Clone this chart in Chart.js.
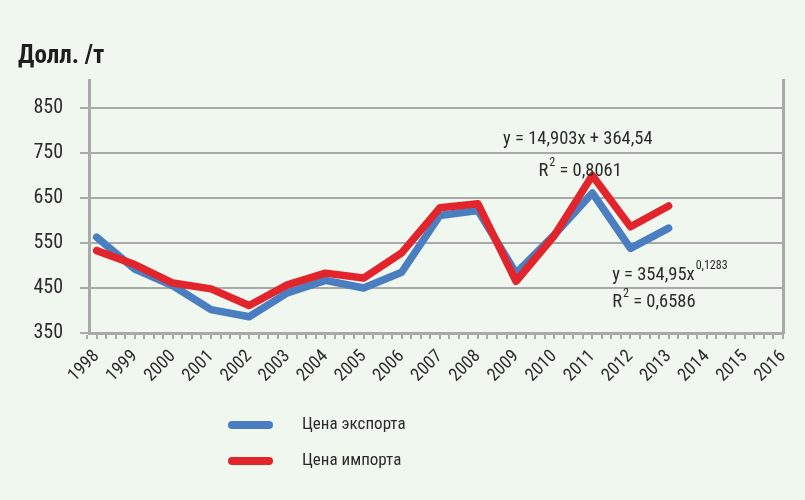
<!DOCTYPE html>
<html>
<head>
<meta charset="utf-8">
<script src="https://cdn.jsdelivr.net/npm/chart.js@4.4.1/dist/chart.umd.min.js"></script>
<style>
  html, body { margin: 0; padding: 0; background: #f0f7ee; }
  #wrap { width: 805px; height: 500px; }
</style>
</head>
<body>
<div id="wrap"><canvas id="myChart" width="805" height="500"></canvas></div>
<script>
const years = [1998, 1999, 2000, 2001, 2002, 2003, 2004, 2005, 2006, 2007, 2008, 2009, 2010, 2011, 2012, 2013];
const exportPrice = [563, 492, 455, 402, 386, 439, 467, 450, 485, 611, 622, 483, 568, 661, 538, 583];
const importPrice = [533, 502, 461, 448, 411, 457, 483, 472, 528, 628, 637, 465, 566, 700, 586, 632];
const yTicks = [350, 450, 550, 650, 750, 850];
const xFirst = 1998, xLast = 2016;
const seriesNames = ['Цена экспорта', 'Цена импорта'];

const FONT = "'Roboto Condensed', Roboto, sans-serif";
const GRID = '#a9a9a9';
const TEXT = '#2b2b2b';

// trendline equations shown in the picture (x, y in data units)
const notes = [
    { x: 2010.62, y: 781, align: 'center', main: 'y = 14,903x + 364,54', sup: '' },
    { x: 2010.68, y: 708, align: 'center', main: 'R', sup: '2', tail: ' = 0,8061' },
    { x: 2011.52, y: 479, align: 'left', main: 'y = 354,95x', sup: '0,1283' },
    { x: 2011.52, y: 417, align: 'left', main: 'R', sup: '2', tail: ' = 0,6586' }
];

const toPoints = arr => arr.map((v, i) => ({ x: years[i], y: v }));

const notesPlugin = {
    id: 'notes',
    afterDatasetsDraw(chart) {
        const ctx = chart.ctx;
        const xs = chart.scales.x, ys = chart.scales.y;
        ctx.save();
        ctx.fillStyle = TEXT;
        ctx.textBaseline = 'middle';
        notes.forEach(n => {
            const big = '18.5px ' + FONT, small = '12px ' + FONT;
            ctx.font = big;
            const w1 = ctx.measureText(n.main).width;
            const w3 = n.tail ? ctx.measureText(n.tail).width : 0;
            ctx.font = small;
            const w2 = n.sup ? ctx.measureText(n.sup).width + 1 : 0;
            const total = w1 + w2 + w3;
            let px = xs.getPixelForValue(n.x);
            const py = ys.getPixelForValue(n.y);
            if (n.align === 'center') px -= total / 2;
            ctx.textAlign = 'left';
            ctx.font = big;
            ctx.fillText(n.main, px, py);
            if (n.sup) {
                ctx.font = small;
                ctx.fillText(n.sup, px + w1 + 1, py - 9);
            }
            if (n.tail) {
                ctx.font = big;
                ctx.fillText(n.tail, px + w1 + w2, py);
            }
        });
        ctx.restore();
    }
};

const legendPlugin = {
    id: 'vlegend',
    afterDraw(chart) {
        const ctx = chart.ctx;
        ctx.save();
        chart.data.datasets.forEach((ds, i) => {
            const y = 425 + i * 36;
            ctx.strokeStyle = ds.borderColor;
            ctx.lineWidth = 8;
            ctx.lineCap = 'round';
            ctx.beginPath();
            ctx.moveTo(232, y);
            ctx.lineTo(269, y);
            ctx.stroke();
            ctx.fillStyle = TEXT;
            ctx.font = '17px ' + FONT;
            ctx.textBaseline = 'middle';
            ctx.textAlign = 'left';
            ctx.fillText(ds.label, 302, y);
        });
        ctx.restore();
    }
};

const config = {
    type: 'line',
    data: {
        datasets: [
            {
                label: seriesNames[0],
                data: toPoints(exportPrice),
                borderColor: '#4a7ec0',
                borderWidth: 7.5,
                pointRadius: 0,
                tension: 0,
                borderJoinStyle: 'round',
                borderCapStyle: 'round',
                order: 1
            },
            {
                label: seriesNames[1],
                data: toPoints(importPrice),
                borderColor: '#e2242d',
                borderWidth: 7.5,
                pointRadius: 0,
                tension: 0,
                borderJoinStyle: 'round',
                borderCapStyle: 'round',
                order: 0
            }
        ]
    },
    options: {
        responsive: false,
        animation: false,
        devicePixelRatio: 1,
        layout: { padding: { top: 42, left: 18, right: 22, bottom: 117 } },
        scales: {
            x: {
                type: 'linear',
                min: xFirst - 0.2,
                max: xLast,
                afterBuildTicks: scale => {
                    const t = [];
                    for (let v = xFirst * 4 - 1; v <= xLast * 4; v++) t.push({ value: v / 4 });
                    scale.ticks = t;
                },
                afterFit: scale => { scale.height = 50; scale.paddingLeft = 0; scale.paddingRight = 0; },
                ticks: {
                    autoSkip: false,
                    maxRotation: 45,
                    minRotation: 45,
                    padding: 7,
                    color: TEXT,
                    font: { family: FONT, size: 18 },
                    callback: v => Number.isInteger(v) ? String(v) : ''
                },
                grid: { drawOnChartArea: false, color: GRID, lineWidth: 2, tickLength: 6 },
                border: { color: GRID, width: 3 }
            },
            y: {
                min: 350,
                max: 912,
                afterBuildTicks: scale => { scale.ticks = yTicks.map(v => ({ value: v })); },
                afterFit: scale => { scale.width = 71; },
                ticks: {
                    padding: 17,
                    color: TEXT,
                    font: { family: FONT, size: 20 }
                },
                grid: { color: GRID, lineWidth: 2, tickLength: 9 },
                border: { color: GRID, width: 3 }
            },
            yRight: {
                position: 'right',
                min: 350,
                max: 912,
                afterFit: scale => { scale.width = 0; },
                ticks: { display: false },
                grid: { display: false },
                border: { color: GRID, width: 3 }
            }
        },
        plugins: {
            legend: { display: false },
            tooltip: { enabled: false },
            title: {
                display: true,
                text: 'Долл. /т',
                align: 'start',
                color: '#1e1e1e',
                font: { family: FONT, size: 25, weight: 'bold', lineHeight: 1.2 },
                padding: { top: 0, bottom: 8 }
            }
        }
    },
    plugins: [notesPlugin, legendPlugin]
};

new Chart(document.getElementById('myChart').getContext('2d'), config);
</script>
</body>
</html>
